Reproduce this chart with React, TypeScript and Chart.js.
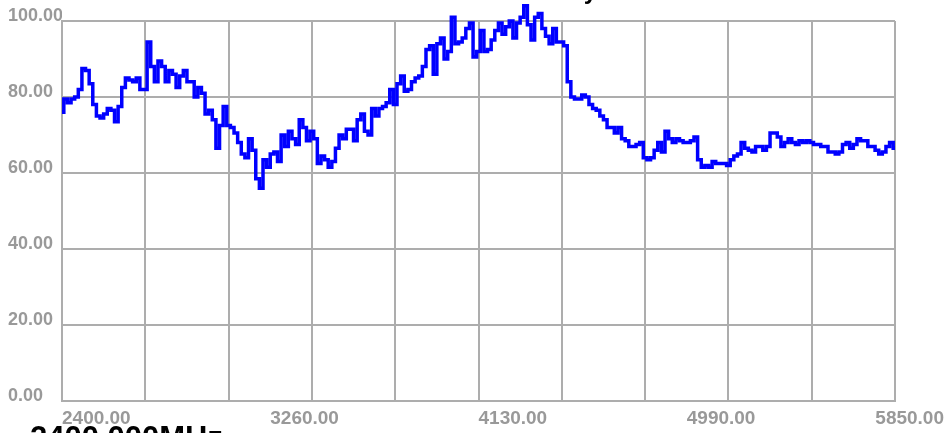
import React, { useEffect, useRef } from 'react';
import { Chart, registerables } from 'chart.js';

Chart.register(...registerables);

// Sweep frequencies (MHz)
const frequencies: number[] = [
  2400, 2415, 2430, 2445, 2460, 2475, 2490, 2505, 2520, 2535,
  2550, 2565, 2580, 2595, 2610, 2625, 2640, 2655, 2670, 2685,
  2700, 2715, 2730, 2745, 2760, 2775, 2790, 2805, 2820, 2835,
  2850, 2865, 2880, 2895, 2910, 2925, 2940, 2955, 2970, 2985,
  3000, 3015, 3030, 3045, 3060, 3075, 3090, 3105, 3120, 3135,
  3150, 3165, 3180, 3195, 3210, 3225, 3240, 3255, 3270, 3285,
  3300, 3315, 3330, 3345, 3360, 3375, 3390, 3405, 3420, 3435,
  3450, 3465, 3480, 3495, 3510, 3525, 3540, 3555, 3570, 3585,
  3600, 3615, 3630, 3645, 3660, 3675, 3690, 3705, 3720, 3735,
  3750, 3765, 3780, 3795, 3810, 3825, 3840, 3855, 3870, 3885,
  3900, 3915, 3930, 3945, 3960, 3975, 3990, 4005, 4020, 4035,
  4050, 4065, 4080, 4095, 4110, 4125, 4140, 4155, 4170, 4185,
  4200, 4215, 4230, 4245, 4260, 4275, 4290, 4305, 4320, 4335,
  4350, 4365, 4380, 4395, 4410, 4425, 4440, 4455, 4470, 4485,
  4500, 4515, 4530, 4545, 4560, 4575, 4590, 4605, 4620, 4635,
  4650, 4665, 4680, 4695, 4710, 4725, 4740, 4755, 4770, 4785,
  4800, 4815, 4830, 4845, 4860, 4875, 4890, 4905, 4920, 4935,
  4950, 4965, 4980, 4995, 5010, 5025, 5040, 5055, 5070, 5085,
  5100, 5115, 5130, 5145, 5160, 5175, 5190, 5205, 5220, 5235,
  5250, 5265, 5280, 5295, 5310, 5325, 5340, 5355, 5370, 5385,
  5400, 5415, 5430, 5445, 5460, 5475, 5490, 5505, 5520, 5535,
  5550, 5565, 5580, 5595, 5610, 5625, 5640, 5655, 5670, 5685,
  5700, 5715, 5730, 5745, 5760, 5775, 5790, 5805, 5820, 5835,
  5850,
];

// Efficiency (%)
const efficiency: number[] = [
  76, 79.5, 78.5, 79.5, 80, 82, 87.5, 87, 83.5, 78,
  75, 74.5, 75.5, 77, 76.5, 73.5, 77.5, 82.5, 85, 84.5,
  84, 85, 82, 82, 94.5, 88, 84, 89.5, 88, 84,
  87, 86, 82.5, 85.5, 87, 84, 84, 80, 82.5, 81,
  75.5, 76.5, 74, 66.5, 72.5, 77.5, 72.5, 72, 70.5, 68,
  65, 64, 69, 66, 58.5, 56, 63.5, 61.5, 65, 65.5,
  63, 70, 67, 71, 69, 67.5, 74, 72, 68.5, 71,
  69, 62.5, 64.5, 63.5, 61.5, 63, 66.5, 70, 69, 71.5,
  71.5, 68.5, 74, 75.5, 71, 70, 77, 75, 77, 77.5,
  78.5, 82, 78, 83.5, 85.5, 81.5, 82, 84, 85, 85.5,
  88, 92.5, 93.5, 86, 94, 95.5, 90, 92, 101, 94,
  94.5, 95.5, 98, 99.5, 90.5, 92, 97.5, 92, 92.5, 95,
  97.5, 99.5, 96.5, 98.5, 100, 95.5, 99.5, 101, 104, 99,
  95, 101, 102, 98, 96, 94, 98, 94.5, 94.5, 93.5,
  84, 80, 79.5, 79.5, 80.5, 80, 78, 77, 76.5, 75,
  74, 72, 72, 70.5, 72, 69, 68.5, 67, 67, 67.5,
  68, 64, 63.5, 64, 66, 68, 65.5, 71, 69, 68,
  69, 68.5, 68, 68, 68.5, 69.5, 63.5, 61.5, 62, 61.5,
  63, 62.5, 62.5, 62.5, 62, 63.5, 64.5, 65, 68, 66.5,
  66, 65.5, 67, 67, 66, 67, 70.5, 70.5, 69.5, 67,
  68, 69, 68, 67.5, 68.5, 68, 68.5, 68, 67.5, 67.5,
  67, 67, 65.5, 65.5, 65, 65.5, 67.5, 68, 66.5, 67.5,
  69, 68.5, 68.5, 67, 67, 66, 65, 65.5, 67, 68,
  66.5,
];

const gridFrequencies: number[] = [2400, 2745, 3090, 3435, 3780, 4125, 4470, 4815, 5160, 5505, 5850];
const xTickValues: number[] = [2400, 3262.5, 4125, 4987.5, 5850];
const xTickLabels: string[] = ['2400.00', '3260.00', '4130.00', '4990.00', '5850.00'];
const yTickValues: number[] = [0, 20, 40, 60, 80, 100];
const titleText = 'Antenna Efficiency';
const footerText = '2400.000MHz';

const FONT = "'Liberation Sans', Arial, Helvetica, sans-serif";
const GRID = '#adadad';
const LABEL = '#999999';

export default function App() {
  const ref = useRef<HTMLCanvasElement>(null);

  useEffect(() => {
    if (!ref.current) return;
    const xLabelPlugin = {
      id: 'xLabels',
      afterDraw(chart: any) {
        const s = chart.scales.x;
        const ctx = chart.ctx;
        ctx.save();
        ctx.font = `bold 19px ${FONT}`;
        ctx.fillStyle = LABEL;
        ctx.textAlign = 'left';
        ctx.textBaseline = 'alphabetic';
        xTickValues.forEach((v, i) => {
          const t = xTickLabels[i];
          const w = ctx.measureText(t).width;
          const x = Math.min(s.getPixelForValue(v), chart.width - w);
          ctx.fillText(t, x, 424);
        });
        ctx.restore();
      },
    };

    const chart = new Chart(ref.current, {
      type: 'line',
      data: {
        datasets: [
          {
            data: frequencies.map((f, i) => ({ x: f, y: efficiency[i] })),
            borderColor: '#0000ff',
            borderWidth: 3.5,
            pointRadius: 0,
            tension: 0,
            stepped: 'middle',
            fill: false,
            clip: false as any,
          },
        ],
      },
      options: {
        animation: false,
        responsive: false,
        layout: { padding: { left: 8, right: 49, top: 21, bottom: 0 } },
        plugins: {
          legend: { display: false },
          tooltip: { enabled: false },
          title: { display: false },
        },
        scales: {
          x: {
            type: 'linear',
            min: 2400,
            max: 5850,
            afterBuildTicks: (s: any) => {
              s.ticks = gridFrequencies.map((v) => ({ value: v }));
            },
            afterFit: (s: any) => {
              s.height = 32;
            },
            ticks: { display: false },
            grid: { color: GRID, lineWidth: 2, drawTicks: false },
            border: { color: GRID, width: 2 },
          },
          y: {
            type: 'linear',
            min: 0,
            max: 100,
            afterBuildTicks: (s: any) => {
              s.ticks = yTickValues.map((v) => ({ value: v }));
            },
            afterFit: (s: any) => {
              s.width = 54;
            },
            ticks: {
              callback: (v: any) => Number(v).toFixed(2),
              color: LABEL,
              font: { family: FONT, size: 18, weight: 'bold' },
              crossAlign: 'far',
              labelOffset: -5,
              padding: 0,
            },
            grid: { color: GRID, lineWidth: 2, drawTicks: false },
            border: { color: GRID, width: 2 },
          },
        },
      } as any,
      plugins: [xLabelPlugin],
    });
    return () => chart.destroy();
  }, []);

  return (
    <div
      style={{
        position: 'fixed',
        left: 0,
        top: 0,
        width: 944,
        height: 433,
        overflow: 'hidden',
        background: '#ffffff',
      }}
    >
      <canvas
        ref={ref}
        width={944}
        height={433}
        style={{ position: 'absolute', left: 0, top: 0, width: 944, height: 433 }}
      />
      <div
        style={{
          position: 'absolute',
          right: 347,
          top: -21,
          font: `bold 24px/24px ${FONT}`,
          color: '#000',
          whiteSpace: 'nowrap',
        }}
      >
        {titleText}
      </div>
      <div
        style={{
          position: 'absolute',
          left: 30,
          top: 422,
          font: `bold 31px/31px ${FONT}`,
          color: '#000',
          whiteSpace: 'nowrap',
        }}
      >
        {footerText}
      </div>
    </div>
  );
}
